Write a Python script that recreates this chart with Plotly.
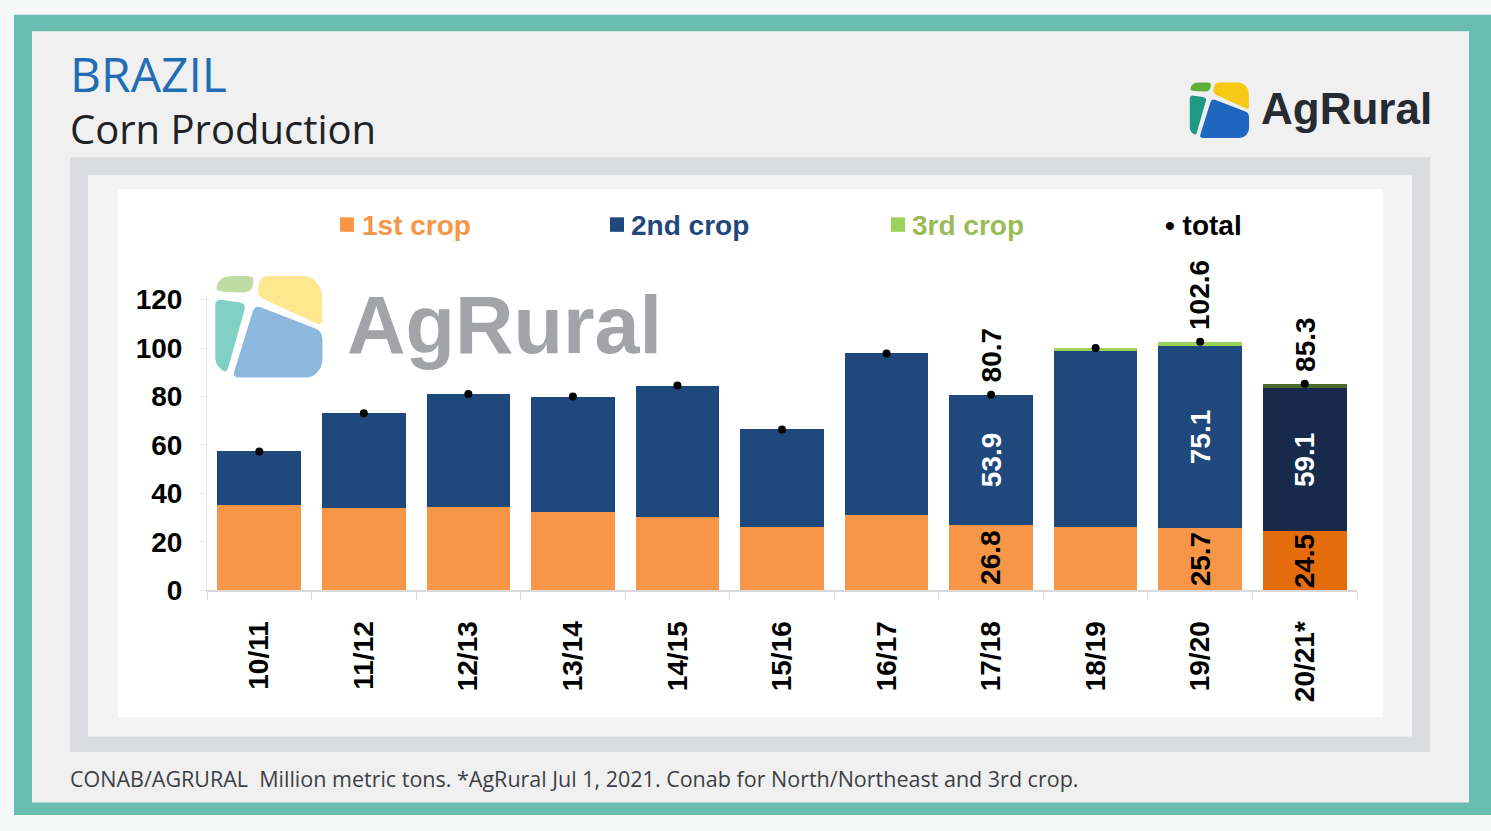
import math
import plotly.graph_objects as go

# ---------------- data ----------------
seasons = ["10/11", "11/12", "12/13", "13/14", "14/15", "15/16",
           "16/17", "17/18", "18/19", "19/20", "20/21*"]
first_crop = [35.0, 33.8, 34.4, 32.3, 30.3, 26.0, 31.2, 26.8, 26.0, 25.7, 24.5]
second_crop = [22.3, 39.3, 46.6, 47.7, 54.2, 40.4, 66.6, 53.9, 73.2, 75.1, 59.1]
third_crop = [0.0, 0.0, 0.0, 0.0, 0.0, 0.0, 0.0, 0.0, 0.8, 1.8, 1.7]
total = [57.3, 73.1, 81.0, 80.0, 84.5, 66.4, 97.8, 80.7, 100.0, 102.6, 85.3]
labeled_seasons = ["17/18", "19/20", "20/21*"]
y_ticks = [0, 20, 40, 60, 80, 100, 120]

# ---------------- helpers ----------------
W, H = 1491, 831


def px(x):
    return x / W


def py(y):
    return 1 - y / H


first_colors = ["#f79646"] * (len(seasons) - 1) + ["#e46c0a"]
second_colors = ["#1f497d"] * (len(seasons) - 1) + ["#172a4c"]
third_colors = ["#9bd35a"] * (len(seasons) - 1) + ["#4a6b2a"]

fig = go.Figure()
fig.add_bar(x=seasons, y=first_crop, name="1st crop",
            marker=dict(color=first_colors, line_width=0), hoverinfo="x+y")
fig.add_bar(x=seasons, y=second_crop, name="2nd crop",
            marker=dict(color=second_colors, line_width=0), hoverinfo="x+y")
fig.add_bar(x=seasons, y=third_crop, name="3rd crop",
            marker=dict(color=third_colors, line_width=0), hoverinfo="x+y")
fig.add_scatter(x=seasons, y=total, name="total", mode="markers",
                marker=dict(color="black", size=8), cliponaxis=False)

# ---------------- background panels ----------------
shapes = []


def rect(x0, y0, x1, y1, color):
    shapes.append(dict(type="rect", xref="paper", yref="paper",
                       x0=px(x0), x1=px(x1), y0=py(y1), y1=py(y0),
                       fillcolor=color, line_width=0, layer="below"))


rect(14, 5, W, H, "#6cbdb1")
rect(32, 22, 1469, 818, "#f0f0f1")
rect(70, 152, 1430, 766, "#d9dbdf")
rect(88, 170, 1412, 750, "#f3f3f4")
rect(118, 185, 1383, 730, "#ffffff")

# legend keys
rect(340, 214, 354, 229, "#f79646")
rect(610, 214, 624, 229, "#1f497d")
rect(891, 214, 905, 229, "#9bd35a")

# ---------------- logos ----------------
logo_polys = {
    "green": [(226.7, 273.3), (258.3, 273.3), (254, 293.3), (216.7, 291.7), (218.3, 280)],
    "yellow": [(261.7, 273.3), (313.3, 273.3), (325, 286.7), (325.7, 328.3), (257.3, 296)],
    "teal": [(216, 296.7), (250, 301.7), (229.3, 377.3), (216, 366.7)],
    "blue": [(256, 302.7), (325.7, 330.7), (325.7, 368.3), (315, 380.7), (232.7, 380.7)],
}


def rounded_path(pts, r):
    n = len(pts)
    segs = []
    for i in range(n):
        p = pts[i]
        a = pts[i - 1]
        b = pts[(i + 1) % n]
        da = math.hypot(a[0] - p[0], a[1] - p[1])
        db = math.hypot(b[0] - p[0], b[1] - p[1])
        ra = min(r, da / 2.5)
        rb = min(r, db / 2.5)
        s = (p[0] + (a[0] - p[0]) * ra / da, p[1] + (a[1] - p[1]) * ra / da)
        e = (p[0] + (b[0] - p[0]) * rb / db, p[1] + (b[1] - p[1]) * rb / db)
        segs.append((s, p, e))
    out = []
    for i, (s, p, e) in enumerate(segs):
        cmd = "M" if i == 0 else "L"
        out.append(f"{cmd} {px(s[0]):.5f},{py(s[1]):.5f}")
        out.append(f"Q {px(p[0]):.5f},{py(p[1]):.5f} {px(e[0]):.5f},{py(e[1]):.5f}")
    return " ".join(out) + " Z"


def add_logo(x0, y0, w, h, colors, r, gap, layer):
    for key, pts in logo_polys.items():
        mapped = []
        for (x, y) in pts:
            nx = (x - 216) / 110.0
            ny = (y - 273) / 108.0
            mapped.append((x0 + nx * w, y0 + ny * h))
        shapes.append(dict(type="path", xref="paper", yref="paper",
                           path=rounded_path(mapped, r),
                           fillcolor=colors[key], line=dict(color=colors["gap"], width=gap),
                           layer=layer))


add_logo(214, 273, 110, 108,
         {"green": "#bedca3", "yellow": "#fde88f", "teal": "#80d0c6", "blue": "#8cb8de",
          "gap": "#ffffff"}, 9, 2.5, "below")
add_logo(1189, 74, 61, 59,
         {"green": "#5cb035", "yellow": "#f6c915", "teal": "#1c9a86", "blue": "#1f66c1",
          "gap": "#f0f0f1"}, 5, 1.5, "above")

# ---------------- annotations ----------------
ann = []


def text(x, y, s, size, color, family="Open Sans", weight="normal", xanchor="left"):
    ann.append(dict(xref="paper", yref="paper", x=px(x), y=py(y), text=s,
                    showarrow=False, xanchor=xanchor, yanchor="middle",
                    font=dict(family=family, size=size, color=color, weight=weight)))


text(68, 66, "BRAZIL", 48, "#1f6db4")
text(68, 122, "Corn Production", 40, "#202124")
text(68, 793, "CONAB/AGRURAL  Million metric tons. *AgRural Jul 1, 2021. Conab for North/Northeast and 3rd crop.",
     21.5, "#3c3f44")
text(345, 325, "AgRural", 81, "#a3a4a8", family="Arial, Liberation Sans", weight="bold")
text(1259, 102, "AgRural", 44, "#262a31", family="Arial, Liberation Sans", weight="bold")

legend_font = "Arial, Liberation Sans"
text(360, 222, "1st crop", 28, "#f79646", family=legend_font, weight="bold")
text(629, 222, "2nd crop", 28, "#1f497d", family=legend_font, weight="bold")
text(910, 222, "3rd crop", 28, "#9bbb59", family=legend_font, weight="bold")
text(1163, 222, "• total", 28, "#000000", family=legend_font, weight="bold")

label_font = dict(family="Arial, Liberation Sans", size=28, weight="bold")
for i, s in enumerate(seasons):
    if s not in labeled_seasons:
        continue
    ann.append(dict(x=s, y=first_crop[i] / 2, xref="x", yref="y",
                    text=f"{first_crop[i]:.1f}", textangle=-90, showarrow=False,
                    font=dict(**label_font, color="black")))
    ann.append(dict(x=s, y=first_crop[i] + second_crop[i] / 2, xref="x", yref="y",
                    text=f"{second_crop[i]:.1f}", textangle=-90, showarrow=False,
                    font=dict(**label_font, color="white")))
    ann.append(dict(x=s, y=total[i], xref="x", yref="y", yanchor="bottom",
                    yshift=10, text=f"{total[i]:.1f}", textangle=-90, showarrow=False,
                    font=dict(**label_font, color="black")))

fig.update_layout(
    width=W, height=H, margin=dict(l=0, r=0, t=0, b=0),
    paper_bgcolor="#f6f8f8", plot_bgcolor="rgba(0,0,0,0)",
    barmode="stack", bargap=0.2, showlegend=False,
    shapes=shapes, annotations=ann,
    xaxis=dict(domain=[px(207), px(1357)], range=[-0.5, len(seasons) - 0.5],
               showline=True, linecolor="#d9d9d9",
               linewidth=1.5, ticks="outside", tickson="boundaries", ticklen=8,
               tickcolor="#dcdcdc", tickangle=-90, showgrid=False, zeroline=False,
               ticklabelstandoff=18,
               tickfont=dict(family="Arial, Liberation Sans", size=28,
                             color="black", weight="bold")),
    yaxis=dict(domain=[py(599), py(294)], range=[0, 122], tickvals=y_ticks,
               showline=True, linecolor="#ececec", linewidth=1, ticks="outside",
               ticklen=6, tickcolor="#e6e6e6", showgrid=False, zeroline=False,
               ticklabelstandoff=12,
               tickfont=dict(family="Arial, Liberation Sans", size=28,
                             color="black", weight="bold")),
)

fig.write_html("out.html", config={"displayModeBar": False})
